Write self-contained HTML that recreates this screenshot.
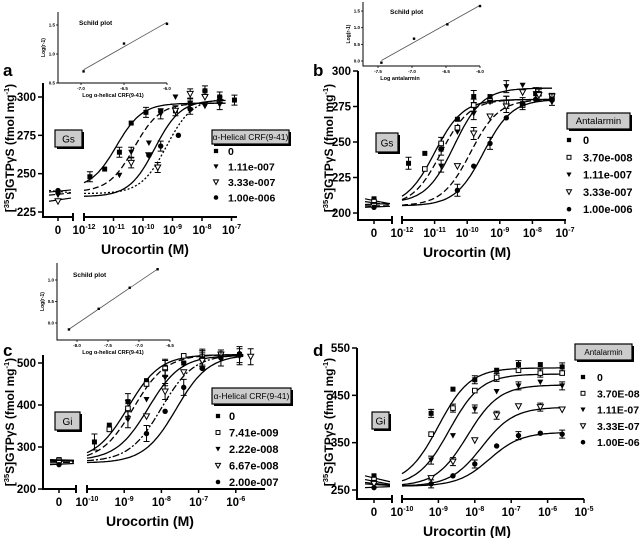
<!DOCTYPE html>
<html><head><meta charset="utf-8"><style>
html,body{margin:0;padding:0;background:#fff;}
svg{display:block;font-family:"Liberation Sans",sans-serif;}
</style></head><body>
<svg id="fig" width="640" height="538" viewBox="0 0 640 538" xmlns="http://www.w3.org/2000/svg"></svg>
<script>
// ---------- DATA ----------
// Panel a (Gs, alpha-helical CRF(9-41))
const aLabels = ["0","1.11e-007","3.33e-007","1.00e-006"];
const aX = [[-11.8,-11.3,-10.8,-10.4,-9.9,-9.4,-8.9,-8.4,-7.9,-7.4,-6.9],[-10.8,-10.4,-9.8,-9.4,-8.9,-8.4,-7.9,-7.4],[-10.4,-9.8,-9.5,-8.9,-8.4,-7.9],[-9.8,-9.4,-8.8,-8.4,-7.9,-7.4]];
const aY = [[248,253,264,283,290,291,291,296,304,300,298],[249,264,270,289,300,296,294,295],[257,262,254,291,302,300],[262,268,275,292,304,300]];
const aZero = [238,236,232,239];
const aBottom = [240,238,235,237];
const aTop = [296,296,298,299];
const aEC50 = [-10.9,-10.3,-9.6,-9.2];
const aTickY = [225,250,275,300];
const aTickExp = [-12,-11,-10,-9,-8,-7];
// Panel b (Gs, antalarmin)
const bLabels = ["0","3.70e-008","1.11e-007","3.33e-007","1.00e-006"];
const bX = [[-11.8,-11.3,-10.8,-10.3,-9.8,-9.3,-8.8,-8.3,-7.9,-7.4],[-11.3,-10.8,-10.3,-9.8,-9.3,-8.8,-8.3,-7.8,-7.4],[-10.8,-10.3,-9.8,-9.3,-8.8,-8.3,-7.9,-7.4],[-10.3,-9.8,-9.3,-8.8,-8.3,-7.8,-7.4],[-10.3,-9.8,-9.3,-8.8,-8.3,-7.9,-7.4]];
const bY = [[235,242,245,266,282,282,278,277,284,280],[231,249,260,276,279,278,276,284,281],[233,257,270,278,289,290,284,278],[233,256,268,275,285,283,282],[216,233,249,267,277,280,280]];
const bZero = [210,208,206,205,204];
const bBottom = [205,205,207,205,205];
const bTop = [280,280,288,280,280];
const bEC50 = [-11.0,-10.8,-10.4,-9.9,-9.5];
const bTickY = [200,225,250,275,300];
const bTickExp = [-12,-11,-10,-9,-8,-7];
// Panel c (Gi, alpha-helical CRF(9-41))
const cLabels = ["0","7.41e-009","2.22e-008","6.67e-008","2.00e-007"];
const cX = [[-9.8,-9.4,-8.9,-8.4,-7.9,-7.4,-6.9,-6.4,-5.9],[-9.4,-8.9,-8.4,-7.9,-7.4,-6.9,-6.4],[-8.9,-8.4,-7.9,-7.4,-6.9,-6.4,-5.9],[-8.4,-7.9,-7.4,-6.9,-6.4,-5.6],[-8.4,-7.9,-7.4,-6.9,-6.4,-5.9]];
const cY = [[312,352,408,458,490,500,510,522,520],[342,392,450,487,517,514,520],[365,413,465,497,510,515,515],[373,432,478,505,520,515],[332,385,442,487,512,522]];
const cZero = [270,268,265,262,258];
const cBottom = [268,266,268,265,262];
const cTop = [520,520,518,520,520];
const cEC50 = [-8.9,-8.75,-8.35,-8.0,-7.6];
const cTickY = [200,300,400,500];
const cTickExp = [-10,-9,-8,-7,-6];
// Panel d (Gi, antalarmin)
const dLabels = ["0","3.70E-08","1.11E-07","3.33E-07","1.00E-06"];
const dX = [[-9.2,-8.6,-8.0,-7.4,-6.8,-6.2,-5.6],[-9.2,-8.6,-8.0,-7.4,-6.8,-6.2,-5.6],[-9.2,-8.6,-8.0,-7.4,-6.8,-6.2,-5.6],[-9.2,-8.6,-8.0,-7.4,-6.8,-6.2,-5.6],[-9.2,-8.6,-8.0,-7.4,-6.8,-6.2,-5.6]];
const dY = [[412,463,483,503,515,515,510],[368,423,460,488,503,497,497],[313,365,421,458,470,478,470],[275,310,355,408,427,425,420],[263,280,305,343,365,370,368]];
const dZero = [280,272,266,263,255];
const dBottom = [262,258,258,258,258];
const dTop = [508,495,472,425,372];
const dEC50 = [-9.0,-8.7,-8.2,-7.8,-7.6];
const dTickY = [250,350,450,550];
const dTickExp = [-10,-9,-8,-7,-6,-5];
// Schild insets
const saX = [-6.97,-6.5,-6.0], saY = [0.7,1.18,1.52];
const sbX = [-7.45,-6.97,-6.48,-6.0], sbY = [-0.05,0.67,1.1,1.65];
const scX = [-8.13,-7.65,-7.15,-6.7], scY = [-0.15,0.33,0.82,1.25];

// ---------- DRAWING ----------
const NS="http://www.w3.org/2000/svg";
const svg=document.getElementById('fig');
function mk(tag,attrs,parent){const e=document.createElementNS(NS,tag);for(const k in attrs)e.setAttribute(k,attrs[k]);(parent||svg).appendChild(e);return e;}
function txt(s,x,y,size,anchor,weight,parent){const t=mk('text',{x:x,y:y,'font-size':size,'text-anchor':anchor||'start','font-weight':weight||'bold',fill:'#000'},parent);t.textContent=s;return t;}

function marker(g,type,x,y,sc){
  const k=sc||1;let e;
  if(type==0){e=mk('rect',{x:x-2.5*k,y:y-2.5*k,width:5*k,height:5*k,fill:'#000'},g);}
  else if(type==1){e=mk('rect',{x:x-2.3*k,y:y-2.3*k,width:4.6*k,height:4.6*k,fill:'#fff',stroke:'#000','stroke-width':1},g);}
  else if(type==2){e=mk('polygon',{points:(x-3*k)+','+(y-2.5*k)+' '+(x+3*k)+','+(y-2.5*k)+' '+x+','+(y+3*k),fill:'#000'},g);}
  else if(type==3){e=mk('polygon',{points:(x-3*k)+','+(y-2.5*k)+' '+(x+3*k)+','+(y-2.5*k)+' '+x+','+(y+3*k),fill:'#fff',stroke:'#000','stroke-width':1},g);}
  else {e=mk('circle',{cx:x,cy:y,r:2.7*k,fill:'#000'},g);}
  
  
}

function panel(c){
  const g=mk('g',{});
  
  
  const ymap=v=>c.p0+(v-c.v0)*(c.p1-c.p0)/(c.v1-c.v0);
  const xmap=l=>c.rs+(l-c.l0)*c.dp;
  const ax=mk('path',{d:'M'+c.x0+','+c.top+'V'+c.xa+'H'+c.le+'M'+c.rs+','+c.xa+'H'+c.re,stroke:'#000','stroke-width':2,fill:'none'},g);
  
  
  mk('line',{x1:c.le,y1:c.xa-4,x2:c.le,y2:c.xa+4,stroke:'#000','stroke-width':2},g);
  mk('line',{x1:c.rs,y1:c.xa-4,x2:c.rs,y2:c.xa+4,stroke:'#000','stroke-width':2},g);
  c.ticksY.forEach(v=>{const y=ymap(v);mk('line',{x1:c.x0-5,y1:y,x2:c.x0,y2:y,stroke:'#000','stroke-width':1.5},g);
    const t=txt(String(v),c.x0-7,y+4,11.5,'end','bold',g);
    
    });
  mk('line',{x1:c.zx,y1:c.xa,x2:c.zx,y2:c.xa+4,stroke:'#000','stroke-width':1.5},g);
  txt('0',c.zx,c.xa+17,11.5,'middle','bold',g);
  c.ticksX.forEach(e=>{const x=xmap(e);mk('line',{x1:x,y1:c.xa,x2:x,y2:c.xa+4,stroke:'#000','stroke-width':1.5},g);
    const t=mk('text',{x:x,y:c.xa+17,'font-size':11.5,'text-anchor':'middle','font-weight':'bold'},g);
    
    
    const a=mk('tspan',{},t);a.textContent='10';const b=mk('tspan',{'font-size':7,dy:-5},t);b.textContent=String(e);});
  const xl=txt('Urocortin (M)',c.xlx,c.xa+37,14,'middle','bold',g);
  
  
  const yl=mk('text',{x:0,y:0,'font-size':12,'font-weight':'bold','text-anchor':'middle',transform:'translate('+c.ylx+','+c.yly+') rotate(-90)'},g);
  
  
  const parts=[['[',0],['35',1],['S]GTP',0],['γ',0],['S (fmol mg',0],['-1',1],[')',0]];
  let prevSup=false;
  parts.forEach(p=>{const at={};if(p[1]){at['font-size']=7.5;at.dy=-5;}else if(prevSup){at.dy=5;}
    const s=mk('tspan',at,yl);s.textContent=p[0];prevSup=!!p[1];});
  for(let i=0;i<c.X.length;i++){
    const f=l=>c.bot[i]+(c.topv[i]-c.bot[i])/(1+Math.pow(10,c.ec[i]-l));
    let d='';for(let l=c.l0;l<=c.cend+1e-9;l+=0.05){d+=(d?'L':'M')+xmap(l).toFixed(1)+','+ymap(f(l)).toFixed(1);}
    const p=mk('path',{d:d,fill:'none',stroke:'#000','stroke-width':1.3,'stroke-dasharray':c.dash[i]},g);
    
    
    const z=mk('line',{x1:c.zx-9,y1:ymap(c.zero[i]),x2:c.le-2,y2:ymap(c.bot[i]+(c.zero[i]-c.bot[i])*0.3),stroke:'#000','stroke-width':1.2,'stroke-dasharray':c.dash[i]},g);
    
    
    marker(g,c.mtype[i],c.zx,ymap(c.zero[i]));
    for(let j=0;j<c.X[i].length;j++){
      const x=xmap(c.X[i][j]),y=ymap(c.Y[i][j]);
      if((i+j)%2==0){const eb=mk('path',{d:'M'+(x-3)+','+(y-c.err)+'H'+(x+3)+'M'+x+','+(y-c.err)+'V'+(y+c.err)+'M'+(x-3)+','+(y+c.err)+'H'+(x+3),stroke:'#000','stroke-width':1,fill:'none'},g);
        
        }
      marker(g,c.mtype[i],x,y);
    }
  }
  const lb=mk('rect',{x:c.lgx,y:c.lgy,width:c.lgw,height:c.lgh,fill:'#ccc',stroke:'#000','stroke-width':1.2},g);
  
  
  mk('rect',{x:c.lgx+c.lgw,y:c.lgy+2,width:2,height:c.lgh,fill:'#000'},g);
  mk('rect',{x:c.lgx+2,y:c.lgy+c.lgh,width:c.lgw,height:2,fill:'#000'},g);
  txt(c.lgTitle,c.lgx+c.lgw/2,c.lgy+c.lgh/2+3.2,c.lgFont,'middle','normal',g);
  c.labels.forEach((s,i)=>{const y=c.rowY+i*c.rowDy;marker(g,c.mtype[i],c.mx,y,0.85);
    const t=txt(s,c.tx,y+4,c.rowFont,'start','bold',g);
    
    });
  const gb=mk('rect',{x:c.gx,y:c.gy,width:c.gw,height:c.gh,fill:'#ccc',stroke:'#000','stroke-width':1.2},g);
  
  
  mk('rect',{x:c.gx+c.gw,y:c.gy+2,width:2,height:c.gh,fill:'#000'},g);
  mk('rect',{x:c.gx+2,y:c.gy+c.gh,width:c.gw,height:2,fill:'#000'},g);
  txt(c.gname,c.gx+c.gw/2,c.gy+c.gh/2+4,10,'middle','normal',g);
  const L=txt(c.id,c.letx,c.lety,17,'start','bold',g);
  
  
}

function inset(s){
  const g=mk('g',{});
  
  
  const xm=v=>s.xp0+(v-s.xv0)*s.xs, ym=v=>s.yp0-(v-s.yv0)*s.ys;
  mk('path',{d:'M'+s.ax+','+s.at+'V'+s.ay+'H'+s.ar,stroke:'#000','stroke-width':1,fill:'none'},g);
  s.tx.forEach(v=>{mk('line',{x1:xm(v),y1:s.ay,x2:xm(v),y2:s.ay+2,stroke:'#000','stroke-width':0.8},g);txt(v.toFixed(1),xm(v),s.ay+7,4.5,'middle','bold',g);});
  s.ty.forEach(v=>{mk('line',{x1:s.ax-2,y1:ym(v),x2:s.ax,y2:ym(v),stroke:'#000','stroke-width':0.8},g);txt(v.toFixed(1),s.ax-3,ym(v)+1.5,4.5,'end','bold',g);});
  const n=s.X.length;let mx=0,my=0;for(let i=0;i<n;i++){mx+=s.X[i];my+=s.Y[i];}mx/=n;my/=n;
  let sxy=0,sxx=0;for(let i=0;i<n;i++){sxy+=(s.X[i]-mx)*(s.Y[i]-my);sxx+=(s.X[i]-mx)**2;}
  const k=sxy/sxx,x1=s.X[0],x2=s.X[n-1];
  const ln=mk('line',{x1:xm(x1),y1:ym(my+k*(x1-mx)),x2:xm(x2),y2:ym(my+k*(x2-mx)),stroke:'#555','stroke-width':0.8},g);
  
  
  for(let i=0;i<n;i++){const p=mk('rect',{x:xm(s.X[i])-1.2,y:ym(s.Y[i])-1.2,width:2.4,height:2.4,fill:'#000'},g);
    
    }
  txt('Schild plot',s.tlx,s.tly,6.5,'start','bold',g);
  txt(s.xlabel,s.xlx,s.ay+14,5.5,'middle','bold',g);
  mk('text',{x:0,y:0,'font-size':5,'font-weight':'bold','text-anchor':'middle',transform:'translate('+(s.ax-13)+','+((s.at+s.ay)/2)+') rotate(-90)'},g).textContent='Log(r-1)';
}

const D1='none',D2='6,3',D3='2,2',D4='7,2,2,2';
panel({id:'a',x0:43,top:83,xa:217,le:73,zx:58,rs:84,l0:-12,dp:29.5,re:237,cend:-7.2,v0:225,p0:212,v1:300,p1:97,
  ticksY:aTickY,ticksX:aTickExp,xlx:145,ylx:14,yly:148,X:aX,Y:aY,zero:aZero,bot:aBottom,topv:aTop,ec:aEC50,
  dash:[D1,D2,D1,D3],mtype:[0,2,3,4],err:5,lgx:212,lgy:130,lgw:77,lgh:14,lgTitle:'α-Helical CRF(9-41)',lgFont:8.5,
  labels:aLabels,rowY:151,rowDy:15.5,mx:216,tx:228,rowFont:10.5,gx:55,gy:130,gw:27,gh:17,gname:'Gs',letx:3,lety:76});
panel({id:'b',x0:358,top:71,xa:220,le:392,zx:374,rs:402,l0:-12,dp:32.6,re:566,cend:-7.4,v0:200,p0:213,v1:300,p1:71,
  ticksY:bTickY,ticksX:bTickExp,xlx:467,ylx:333,yly:148,X:bX,Y:bY,zero:bZero,bot:bBottom,topv:bTop,ec:bEC50,
  dash:[D1,D2,D1,D2,D1],mtype:[0,1,2,3,4],err:6,lgx:567,lgy:113,lgw:63,lgh:16,lgTitle:'Antalarmin',lgFont:9.5,
  labels:bLabels,rowY:140,rowDy:17.3,mx:569,tx:583,rowFont:11,gx:376,gy:133,gw:22,gh:19,gname:'Gs',letx:313,lety:76});
panel({id:'c',x0:43,top:355,xa:489,le:76,zx:59,rs:87,l0:-10,dp:37.2,re:265,cend:-5.8,v0:200,p0:489,v1:500,p1:363,
  ticksY:cTickY,ticksX:cTickExp,xlx:150,ylx:14,yly:422,X:cX,Y:cY,zero:cZero,bot:cBottom,topv:cTop,ec:cEC50,
  dash:[D1,D2,D1,D4,D1],mtype:[0,1,2,3,4],err:8,lgx:212,lgy:388,lgw:79,lgh:16,lgTitle:'α-Helical CRF(9-41)',lgFont:8.5,
  labels:cLabels,rowY:416,rowDy:16.5,mx:218,tx:229,rowFont:11,gx:55,gy:412,gw:25,gh:18,gname:'Gi',letx:3,lety:356});
panel({id:'d',x0:357,top:348,xa:499,le:392,zx:374,rs:402,l0:-10,dp:36.4,re:584,cend:-5.6,v0:250,p0:490,v1:550,p1:348,
  ticksY:dTickY,ticksX:dTickExp,xlx:467,ylx:333,yly:422,X:dX,Y:dY,zero:dZero,bot:dBottom,topv:dTop,ec:dEC50,
  dash:[D1,D1,D1,D1,D1],mtype:[0,1,2,3,4],err:4,lgx:575,lgy:344,lgw:57,lgh:16,lgTitle:'Antalarmin',lgFont:8,
  labels:dLabels,rowY:377,rowDy:16.3,mx:583,tx:597,rowFont:10.5,gx:372,gy:412,gw:17,gh:17,gname:'Gi',letx:313,lety:356});
inset({ax:58,at:12,ay:83,ar:167,xp0:81,xv0:-7.0,xs:86,yp0:83,yv0:0.5,ys:58,tx:[-7.0,-6.5,-6.0],ty:[0.5,1.0,1.5],X:saX,Y:saY,tlx:79,tly:25,xlabel:'Log α-helical CRF(9-41)',xlx:113});
inset({ax:363,at:2,ay:66,ar:480,xp0:378,xv0:-7.5,xs:68,yp0:61,yv0:0,ys:33.3,tx:[-7.5,-7.0,-6.5,-6.0],ty:[0.0,0.5,1.0,1.5],X:sbX,Y:sbY,tlx:390,tly:14,xlabel:'Log antalarmin',xlx:400});
inset({ax:57,at:263,ay:340,ar:170,xp0:77,xv0:-8.0,xs:62,yp0:323,yv0:0,ys:43,tx:[-8.0,-7.5,-7.0,-6.5],ty:[0.0,0.5,1.0],X:scX,Y:scY,tlx:73,tly:277,xlabel:'Log α-helical CRF(9-41)',xlx:113});
</script>
</body></html>
